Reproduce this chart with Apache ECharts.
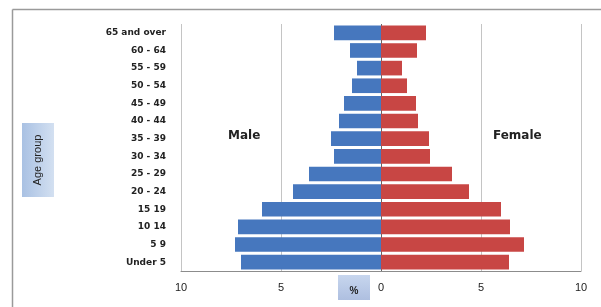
<!DOCTYPE html>
<html>
<head>
<meta charset="utf-8">
<script src="https://cdn.jsdelivr.net/npm/echarts@6/dist/echarts.min.js"></script>
<style>
  html, body { margin: 0; padding: 0; background: #fff; }
  #chart { width: 601px; height: 307px; }
</style>
</head>
<body>
<div id="chart"></div>
<script>
// age groups, bottom to top
const ageGroups = ['Under 5', '5 9', '10 14', '15 19', '20 - 24', '25 - 29', '30 - 34',
  '35 - 39', '40 - 44', '45 - 49', '50 - 54', '55 - 59', '60 - 64', '65 and over']
// percent of population
const male = [7.0, 7.3, 7.15, 5.95, 4.4, 3.6, 2.35, 2.5, 2.1, 1.85, 1.45, 1.2, 1.55, 2.35]
const female = [6.4, 7.15, 6.45, 6.0, 4.4, 3.55, 2.45, 2.4, 1.85, 1.75, 1.3, 1.05, 1.8, 2.25]
const xTicks = [-10, -5, 0, 5, 10]

const chart = echarts.init(document.getElementById('chart'))

const option = {
  animation: false,
  grid: {
    left: 181,
    right: 20,
    top: 24,
    bottom: 36
  },
  xAxis: {
    type: 'value',
    min: xTicks[0],
    max: xTicks[xTicks.length - 1],
    interval: 5,
    axisLine: { show: true, lineStyle: { color: '#8c8c8c', width: 1 } },
    axisTick: { show: false },
    axisLabel: {
      formatter: v => Math.abs(v),
      color: '#222',
      fontFamily: 'Liberation Sans',
      fontSize: 11,
      margin: 11
    },
    splitLine: {
      show: true,
      lineStyle: { color: ['#c4c4c4', '#c4c4c4', '#666', '#c4c4c4', '#c4c4c4'], width: 1 }
    }
  },
  yAxis: {
    type: 'category',
    data: ageGroups,
    axisLine: { show: false, onZero: false },
    axisTick: { show: false },
    axisLabel: {
      color: '#222',
      fontFamily: 'DejaVu Sans',
      fontWeight: 'bold',
      fontSize: 9,
      margin: 15
    }
  },
  series: [
    {
      name: 'Male',
      type: 'bar',
      stack: 'pop',
      data: male.map(v => -v),
      barCategoryGap: '17%',
      itemStyle: { color: '#4677be' }
    },
    {
      name: 'Female',
      type: 'bar',
      stack: 'pop',
      data: female,
      itemStyle: { color: '#c84644' }
    }
  ],
  graphic: [
    // outer frame (cropped: only top and left visible)
    { type: 'line', shape: { x1: 12.5, y1: 9.5, x2: 601, y2: 9.5 }, style: { stroke: '#9a9a9a', lineWidth: 1.5 } },
    { type: 'line', shape: { x1: 12.5, y1: 9.5, x2: 12.5, y2: 307 }, style: { stroke: '#9a9a9a', lineWidth: 1.5 } },
    // axis title boxes
    {
      type: 'rect', shape: { x: 22, y: 123, width: 32, height: 74 },
      style: {
        fill: new echarts.graphic.LinearGradient(0, 0, 1, 0, [
          { offset: 0, color: '#a9c1e3' }, { offset: 1, color: '#d3e0f1' }
        ])
      }
    },
    {
      type: 'text', x: 38, y: 160, rotation: Math.PI / 2,
      style: {
        text: 'Age group', fill: '#222', font: '11px "Liberation Sans"',
        align: 'center', verticalAlign: 'middle'
      }
    },
    {
      type: 'rect', shape: { x: 338, y: 275, width: 32, height: 25 },
      style: {
        fill: new echarts.graphic.LinearGradient(0, 0, 0, 1, [
          { offset: 0, color: '#c7d6ee' }, { offset: 1, color: '#aebfe0' }
        ])
      }
    },
    {
      type: 'text', x: 354, y: 291,
      style: {
        text: '%', fill: '#222', font: 'bold 10px "Liberation Sans"',
        align: 'center', verticalAlign: 'middle'
      }
    },
    {
      type: 'text', x: 228, y: 136,
      style: {
        text: 'Male', fill: '#222', font: 'bold 12px "DejaVu Sans"',
        verticalAlign: 'middle'
      }
    },
    {
      type: 'text', x: 493, y: 136,
      style: {
        text: 'Female', fill: '#222', font: 'bold 12px "DejaVu Sans"',
        verticalAlign: 'middle'
      }
    }
  ]
}

chart.setOption(option)
</script>
</body>
</html>
